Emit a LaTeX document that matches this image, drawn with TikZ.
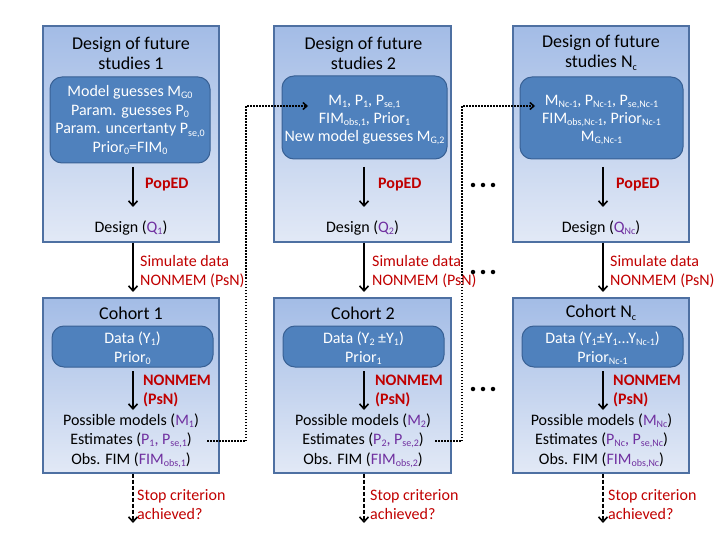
\documentclass[tikz,border=0pt]{standalone}
\usepackage{fontspec}
\setmainfont{Carlito}
\usetikzlibrary{arrows.meta}
\definecolor{boxtop}{RGB}{163,188,230}
\definecolor{boxbot}{RGB}{226,233,246}
\definecolor{boxedge}{RGB}{78,112,162}
\definecolor{innerfill}{RGB}{79,129,189}
\definecolor{inneredge}{RGB}{56,96,148}
\definecolor{redt}{RGB}{192,0,0}
\definecolor{purt}{RGB}{112,48,160}
\newcommand\sbs[1]{\raisebox{-0.3ex}{\fontsize{10}{10}\selectfont #1}}
\newcommand\pu[1]{\textcolor{purt}{#1}}
\begin{document}
\begin{tikzpicture}[x=1pt,y=-1pt,
  outerbox/.style={draw=boxedge,line width=1.4pt,top color=boxtop,bottom color=boxbot,inner sep=0pt},
  innerbox/.style={draw=inneredge,line width=1pt,fill=innerfill,rounded corners=12pt,inner sep=0pt},
  ttl/.style={font=\fontsize{18}{20}\selectfont,align=center,inner sep=0pt},
  body/.style={font=\fontsize{16}{19}\selectfont,align=center,inner sep=0pt},
  wbody/.style={body,text=white},
  lbl/.style={font=\fontsize{16}{19}\selectfont,align=left,inner sep=0pt,anchor=west,text=redt},
  blbl/.style={lbl,font=\fontsize{16}{19}\selectfont\bfseries},
  arr/.style={line width=1.6pt,-{Straight Barb[length=5pt,width=9pt]}},
  darr/.style={arr,dash pattern=on 4pt off 2pt},
  dotl/.style={line width=1.5pt,dash pattern=on 1.5pt off 1.5pt},
  dotarr/.style={dotl,-{Straight Barb[length=4pt,width=7pt]}},
  dotdot/.style={fill=black,circle,inner sep=0pt,minimum size=4.5pt}
]
\useasboundingbox (0,0) rectangle (720,540);

% ---------- outer boxes ----------
\node[outerbox,minimum width=176,minimum height=216] (d1) at (131,134) {};
\node[outerbox,minimum width=177,minimum height=216] (d2) at (362.5,134) {};
\node[outerbox,minimum width=176,minimum height=216] (d3) at (601,134) {};
\node[outerbox,minimum width=176,minimum height=175] (c1) at (131,385.5) {};
\node[outerbox,minimum width=177,minimum height=175] (c2) at (362.5,385.5) {};
\node[outerbox,minimum width=176,minimum height=175] (c3) at (601,385.5) {};

% ---------- inner boxes ----------
\node[innerbox,minimum width=160,minimum height=86] (i1) at (130,120) {};
\node[innerbox,minimum width=165,minimum height=83] (i2) at (364.5,117.5) {};
\node[innerbox,minimum width=163,minimum height=82] (i3) at (601.5,118) {};
\node[innerbox,minimum width=161,minimum height=41] (j1) at (132.5,346.5) {};
\node[innerbox,minimum width=161,minimum height=41] (j2) at (363.5,346.5) {};
\node[innerbox,minimum width=161,minimum height=41] (j3) at (602.5,346.5) {};

% ---------- titles ----------
\node[ttl] (t1) at (131,53) {Design of future\\studies 1};
\node[ttl] (t2) at (363.5,53) {Design of future\\studies 2};
\node[ttl] (t3) at (601,53) {Design of future\\studies N\sbs{c}};
\node[ttl] (k1) at (131,313) {Cohort 1};
\node[ttl] (k2) at (363,313) {Cohort 2};
\node[ttl] (k3) at (601,313) {Cohort N\sbs{c}};

% ---------- inner texts ----------
\node[wbody,font=\fontsize{16}{18.7}\selectfont] (it1) at (130,120)
  {Model guesses M\sbs{G0}\\Param. guesses P\sbs{0}\\Param. uncertanty P\sbs{se,0}\\Prior\sbs{0}=FIM\sbs{0}};
\node[wbody,font=\fontsize{16}{18}\selectfont] (it2) at (364.5,120)
  {M\sbs{1}, P\sbs{1}, P\sbs{se,1}\\FIM\sbs{obs,1}, Prior\sbs{1}\\New model guesses M\sbs{G,2}};
\node[wbody,font=\fontsize{16}{18}\selectfont] (it3) at (601.5,120)
  {M\sbs{Nc-1}, P\sbs{Nc-1}, P\sbs{se,Nc-1}\\FIM\sbs{obs,Nc-1}, Prior\sbs{Nc-1}\\M\sbs{G,Nc-1}};
\node[wbody] (jt1) at (132.5,348.5) {Data (Y\sbs{1})\\Prior\sbs{0}};
\node[wbody] (jt2) at (363.5,348.5) {Data (Y\sbs{2} ±Y\sbs{1})\\Prior\sbs{1}};
\node[wbody] (jt3) at (602.5,348.5) {Data (Y\sbs{1}±Y\sbs{1}...Y\sbs{Nc-1})\\Prior\sbs{Nc-1}};

% ---------- designs ----------
\node[body] (q1) at (131,228) {Design (\pu{Q\sbs{1}})};
\node[body] (q2) at (362.5,228) {Design (\pu{Q\sbs{2}})};
\node[body] (q3) at (601,228) {Design (\pu{Q\sbs{Nc}})};

% ---------- results ----------
\node[body,font=\fontsize{16}{19.5}\selectfont] (r1) at (131,440.5)
  {Possible models (\pu{M\sbs{1}})\\Estimates (\pu{P\sbs{1}, P\sbs{se,1}})\\Obs. FIM (\pu{FIM\sbs{obs,1}})};
\node[body,font=\fontsize{16}{19.5}\selectfont] (r2) at (363,440.5)
  {Possible models (\pu{M\sbs{2}})\\Estimates (\pu{P\sbs{2}, P\sbs{se,2}})\\Obs. FIM (\pu{FIM\sbs{obs,2}})};
\node[body,font=\fontsize{16}{19.5}\selectfont] (r3) at (601.5,440.5)
  {Possible models (\pu{M\sbs{Nc}})\\Estimates (\pu{P\sbs{Nc}, P\sbs{se,Nc}})\\Obs. FIM (\pu{FIM\sbs{obs,Nc}})};

% ---------- labels ----------
\node[blbl] (p1) at (145,185) {PopED};
\node[blbl] (p2) at (378,185) {PopED};
\node[blbl] (p3) at (616,185) {PopED};
\node[lbl] (s1) at (140,271.5) {Simulate data\\NONMEM (PsN)};
\node[lbl] (s2) at (372,271.5) {Simulate data\\NONMEM (PsN)};
\node[lbl] (s3) at (610,271.5) {Simulate data\\NONMEM (PsN)};
\node[blbl] (n1) at (143,390.5) {NONMEM\\(PsN)};
\node[blbl] (n2) at (375,390.5) {NONMEM\\(PsN)};
\node[blbl] (n3) at (613,390.5) {NONMEM\\(PsN)};
\node[lbl] (x1) at (137,504.5) {Stop criterion\\achieved?};
\node[lbl] (x2) at (370,504.5) {Stop criterion\\achieved?};
\node[lbl] (x3) at (608,504.5) {Stop criterion\\achieved?};

% ---------- arrow end points ----------
\foreach \c/\x in {1/133,2/364,3/603}{
  \coordinate (pa\c) at (\x,167);  \coordinate (pb\c) at (\x,207);
  \coordinate (sa\c) at (\x,242.5);\coordinate (sb\c) at (\x,292);
  \coordinate (na\c) at (\x,371);  \coordinate (nb\c) at (\x,410);
  \coordinate (ea\c) at (\x,473.5);\coordinate (eb\c) at (\x,523);
}
\foreach \c in {1,2,3}{
  \draw[arr] (pa\c) -- (pb\c);
  \draw[arr] (sa\c) -- (sb\c);
  \draw[arr] (na\c) -- (nb\c);
  \draw[darr] (ea\c) -- (eb\c);
}

% ---------- dotted feedback ----------
\coordinate (fa1) at (207,441); \coordinate (fb1) at (308,106);
\coordinate (fa2) at (435,441); \coordinate (fb2) at (535,106);
\draw[dotarr] (fa1) -- (246,441) -- (246,106) -- (fb1);
\draw[dotarr] (fa2) -- (462,441) -- (462,106) -- (fb2);

% ---------- ellipses ----------
\foreach \y/\n in {185/a,272/b,389/c}{
  \node[dotdot] (e\n1) at (473,\y) {};
  \node[dotdot] (e\n2) at (483,\y) {};
  \node[dotdot] (e\n3) at (493,\y) {};
}
\end{tikzpicture}
\end{document}
